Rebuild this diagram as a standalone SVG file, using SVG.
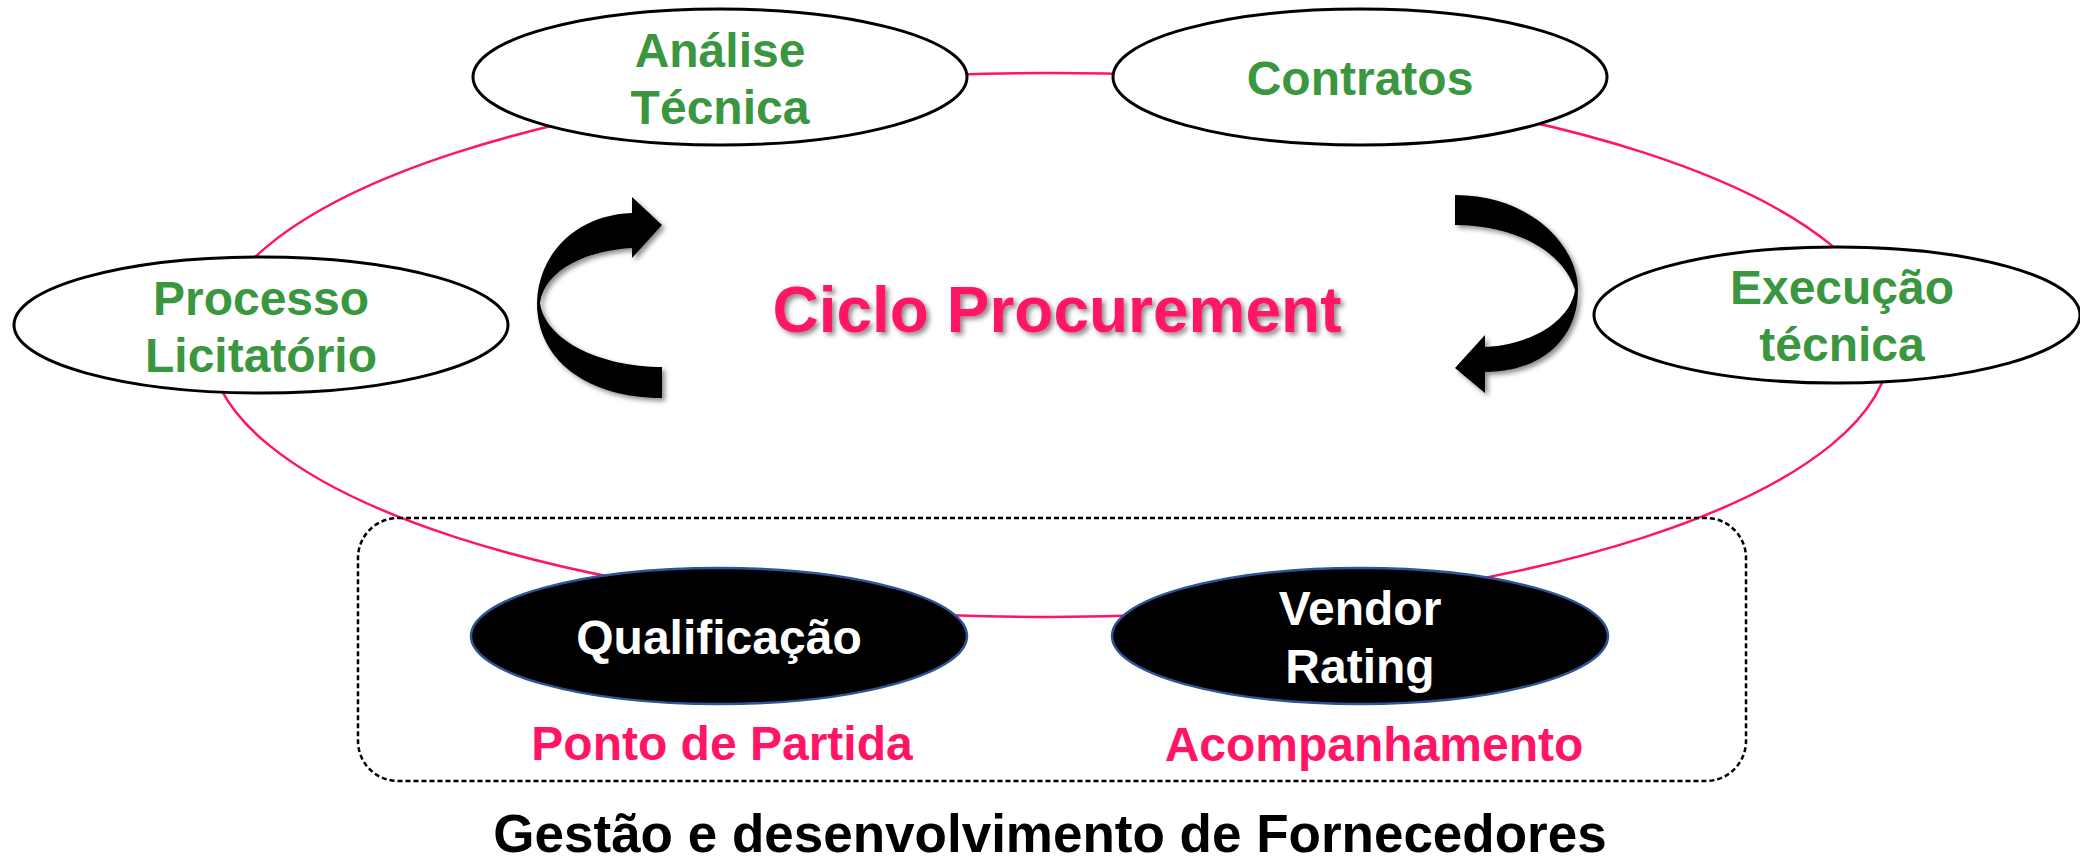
<svg xmlns="http://www.w3.org/2000/svg" width="2080" height="860" viewBox="0 0 2080 860">
<defs>
<style>
.node{fill:#fff;stroke:#000;stroke-width:3}
.dark{fill:#000;stroke:#2F5597;stroke-width:2.5}
.g{font-family:"Liberation Sans",Arial,sans-serif;font-weight:bold;font-size:48px;fill:#3A963F;text-anchor:middle}
.w{font-family:"Liberation Sans",Arial,sans-serif;font-weight:bold;font-size:48px;fill:#fff;text-anchor:middle}
.p{font-family:"Liberation Sans",Arial,sans-serif;font-weight:bold;font-size:48px;fill:#FF1466;text-anchor:middle}
.ring{fill:none;stroke:#FF1466;stroke-width:2.5}
</style>
<filter id="sh" x="-20%" y="-20%" width="140%" height="140%">
<feDropShadow dx="3" dy="3" stdDeviation="2.5" flood-color="#000" flood-opacity="0.45"/>
</filter>
</defs>
<rect width="2080" height="860" fill="#fff"/>
<g id="connectors">
<ellipse class="ring" cx="1050" cy="345" rx="840" ry="272"/>
</g>
<rect id="group-box" x="358" y="518" width="1388" height="263" rx="40" fill="none" stroke="#000" stroke-width="2.5" stroke-dasharray="5 3"/>
<g id="analise">
<ellipse class="node" cx="720" cy="77" rx="247" ry="68"/>
<text class="g" x="720" y="67">Análise</text>
<text class="g" x="720" y="124">Técnica</text>
</g>
<g id="contratos">
<ellipse class="node" cx="1360" cy="77" rx="247" ry="68"/>
<text class="g" x="1360" y="95">Contratos</text>
</g>
<g id="processo">
<ellipse class="node" cx="261" cy="325" rx="247" ry="68"/>
<text class="g" x="261" y="315">Processo</text>
<text class="g" x="261" y="372">Licitatório</text>
</g>
<g id="execucao">
<ellipse class="node" cx="1837" cy="315" rx="243" ry="68"/>
<text class="g" x="1842" y="304">Execução</text>
<text class="g" x="1842" y="361">técnica</text>
</g>
<g id="qualificacao">
<ellipse class="dark" cx="719" cy="636" rx="248" ry="68"/>
<text class="w" x="719" y="654">Qualificação</text>
</g>
<g id="vendor">
<ellipse class="dark" cx="1360" cy="636" rx="248" ry="68"/>
<text class="w" x="1360" y="625">Vendor</text>
<text class="w" x="1360" y="683">Rating</text>
</g>
<g id="arrows" filter="url(#sh)">
<path d="M 662 367 C 600 367 545 340 540 303 C 545 268 590 250 632 248 L 632 258 L 662 225 L 632 197 L 632 213 C 575 215 538 255 537 303 C 537 362 590 398 662 398 Z" fill="#000"/>
<path d="M 1455 195 C 1530 195 1578 245 1578 290 C 1578 340 1540 372 1485 372 L 1485 393 L 1455 368 L 1485 335 L 1485 347 C 1530 345 1570 322 1575 290 C 1565 255 1520 225 1455 225 Z" fill="#000"/>
</g>
<text id="title" x="1057" y="332" filter="url(#sh)" style="font-family:'Liberation Sans',Arial,sans-serif;font-weight:bold;font-size:64px;fill:#FF1466;text-anchor:middle">Ciclo Procurement</text>
<text class="p" x="722" y="760">Ponto de Partida</text>
<text class="p" x="1374" y="761">Acompanhamento</text>
<text x="1050" y="852" style="font-family:'Liberation Sans',Arial,sans-serif;font-weight:bold;font-size:53px;fill:#000;text-anchor:middle">Gestão e desenvolvimento de Fornecedores</text>
</svg>
